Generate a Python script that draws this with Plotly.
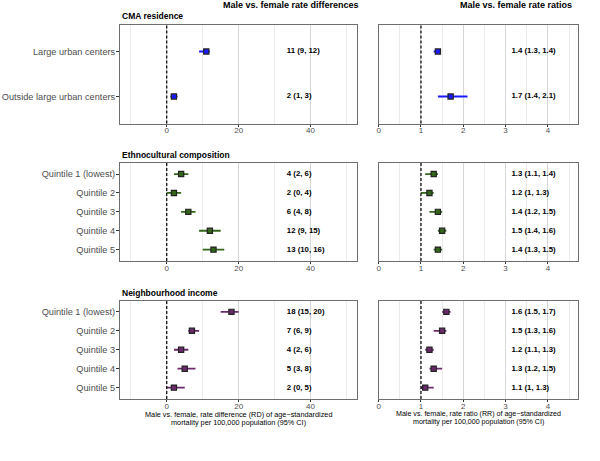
import plotly.graph_objects as go

# ---------------- data ----------------
cma_cats = ["Large urban centers", "Outside large urban centers"]
cma_rd = [11, 2]
cma_rd_lo = [9, 1]
cma_rd_hi = [12, 3]
cma_rr = [1.4, 1.7]
cma_rr_lo = [1.3, 1.4]
cma_rr_hi = [1.4, 2.1]

eth_cats = ["Quintile 1 (lowest)", "Quintile 2", "Quintile 3", "Quintile 4", "Quintile 5"]
eth_rd = [4, 2, 6, 12, 13]
eth_rd_lo = [2, 0, 4, 9, 10]
eth_rd_hi = [6, 4, 8, 15, 16]
eth_rr = [1.3, 1.2, 1.4, 1.5, 1.4]
eth_rr_lo = [1.1, 1.0, 1.2, 1.4, 1.3]
eth_rr_hi = [1.4, 1.3, 1.5, 1.6, 1.5]

inc_cats = ["Quintile 1 (lowest)", "Quintile 2", "Quintile 3", "Quintile 4", "Quintile 5"]
inc_rd = [18, 7, 4, 5, 2]
inc_rd_lo = [15, 6, 2, 3, 0]
inc_rd_hi = [20, 9, 6, 8, 5]
inc_rr = [1.6, 1.5, 1.2, 1.3, 1.1]
inc_rr_lo = [1.5, 1.3, 1.1, 1.2, 1.0]
inc_rr_hi = [1.7, 1.6, 1.3, 1.5, 1.3]

section_titles = ["CMA residence", "Ethnocultural composition", "Neighbourhood income"]
col_titles = ["Male vs. female rate differences", "Male vs. female rate ratios"]
x_titles = [["Male vs. female, rate difference (RD) of age\u2212standardized",
             "mortality per 100,000 population (95% CI)"],
            ["Male vs. female, rate ratio (RR) of age\u2212standardized",
             "mortality per 100,000 population (95% CI)"]]
colors = ["#1a1aff", "#33661a", "#6b2a6b"]

rd_ticks = [0, 20, 40]
rd_minor = [-10, 10, 30, 50]
rr_ticks = [0, 1, 2, 3, 4]
rr_minor = [0.5, 1.5, 2.5, 3.5, 4.5]

# ---------------- layout geometry ----------------
W, H = 600, 461
FONT = "Arial, Liberation Sans, sans-serif"
xdom_l = [120 / W, 357.3 / W]
xdom_r = [378.7 / W, 578.3 / W]
ydoms = [[1 - 123.5 / H, 1 - 24.5 / H],
         [1 - 261 / H, 1 - 162.7 / H],
         [1 - 399 / H, 1 - 300.5 / H]]

fig = go.Figure()

groups = [
    (cma_cats, cma_rd, cma_rd_lo, cma_rd_hi, cma_rr, cma_rr_lo, cma_rr_hi),
    (eth_cats, eth_rd, eth_rd_lo, eth_rd_hi, eth_rr, eth_rr_lo, eth_rr_hi),
    (inc_cats, inc_rd, inc_rd_lo, inc_rd_hi, inc_rr, inc_rr_lo, inc_rr_hi),
]

def fmt(v):
    return f"{v:g}"

shapes = []
annotations = []
for gi, (cats, rd, rdl, rdh, rr, rrl, rrh) in enumerate(groups):
    n = len(cats)
    for ci, (vals, lo, hi) in enumerate([(rd, rdl, rdh), (rr, rrl, rrh)]):
        idx = gi * 2 + ci + 1
        xa = "x" if idx == 1 else f"x{idx}"
        ya = "y" if idx == 1 else f"y{idx}"
        fig.add_trace(go.Scatter(
            x=vals, y=cats, xaxis=xa, yaxis=ya, mode="markers",
            marker=dict(symbol="square", size=5.2, color=colors[gi],
                        line=dict(color="#222222", width=1.2)),
            error_x=dict(type="data", symmetric=False,
                         array=[h - v for h, v in zip(hi, vals)],
                         arrayminus=[v - l for v, l in zip(vals, lo)],
                         color=colors[gi], thickness=1.8, width=0),
            showlegend=False, hoverinfo="skip"))
        labels = [f"{fmt(v)} ({fmt(l)}, {fmt(h)})" for v, l, h in zip(vals, lo, hi)]
        tx = 33.4 if ci == 0 else 3.14
        fig.add_trace(go.Scatter(
            x=[tx] * n, y=cats, xaxis=xa, yaxis=ya, mode="text",
            text=labels, textposition="middle right",
            textfont=dict(family=FONT, size=7.8, color="black", weight="bold"),
            showlegend=False, hoverinfo="skip"))
        xdom = xdom_l if ci == 0 else xdom_r
        xr = [-13, 53] if ci == 0 else [0, 4.72]
        ticks = rd_ticks if ci == 0 else rr_ticks
        minor = rd_minor if ci == 0 else rr_minor
        axkey = "xaxis" if idx == 1 else f"xaxis{idx}"
        aykey = "yaxis" if idx == 1 else f"yaxis{idx}"
        fig.layout[axkey] = dict(
            domain=xdom, anchor=ya, range=xr, tickvals=ticks, automargin=False,
            showgrid=True, gridcolor="#d6d6d6", gridwidth=1,
            minor=dict(tickvals=minor, showgrid=True, gridcolor="#ebebeb", gridwidth=1, ticks=""),
            showline=True, mirror=True, linecolor="#6e6e6e", linewidth=1,
            ticks="outside", ticklen=2, tickcolor="#333333",
            ticklabelstandoff=-3,
            tickfont=dict(family=FONT, size=8, color="#4d4d4d"),
            zeroline=False, fixedrange=True)
        fig.layout[aykey] = dict(
            domain=ydoms[gi], anchor=xa, type="category", automargin=False,
            categoryorder="array", categoryarray=cats,
            range=[n - 0.4, -0.6],
            showticklabels=(ci == 0), showgrid=False,
            ticks="outside" if ci == 0 else "", ticklen=3, tickcolor="#333333",
            ticklabelstandoff=-1,
            tickfont=dict(family=FONT, size=9.2, color="#4d4d4d"),
            showline=True, mirror=True, linecolor="#6e6e6e", linewidth=1,
            zeroline=False, fixedrange=True)
        ref = 0 if ci == 0 else 1
        shapes.append(dict(type="line", xref=xa, yref=f"{ya} domain", x0=ref, x1=ref, y0=0, y1=1,
                           line=dict(color="black", width=1.2, dash="3px,2px"), layer="above"))
        if gi == 2:
            cx = (xdom[0] + xdom[1]) / 2
            for li, (line_txt, ypx) in enumerate(zip(x_titles[ci], [414.3, 422.3])):
                annotations.append(dict(text=line_txt, xref="paper", yref="paper",
                                        x=cx, y=1 - ypx / H, xanchor="center", yanchor="middle",
                                        showarrow=False,
                                        font=dict(family=FONT, size=7.3 if ci == 0 else 7.1, color="black")))
    annotations.append(dict(text=f"<b>{section_titles[gi]}</b>", xref="paper", yref="paper",
                            x=xdom_l[0], y=ydoms[gi][1], xanchor="left", yanchor="bottom", yshift=1,
                            showarrow=False, font=dict(family=FONT, size=8.5, color="black")))

annotations.append(dict(text=f"<b>{col_titles[0]}</b>", xref="paper", yref="paper",
                        x=291 / W, y=1 - 4.5 / H, xanchor="center", yanchor="middle",
                        showarrow=False, font=dict(family=FONT, size=9, color="black")))
annotations.append(dict(text=f"<b>{col_titles[1]}</b>", xref="paper", yref="paper",
                        x=515.5 / W, y=1 - 4.5 / H, xanchor="center", yanchor="middle",
                        showarrow=False, font=dict(family=FONT, size=9, color="black")))

fig.update_layout(width=W, height=H, margin=dict(l=0, r=0, t=0, b=0),
                  plot_bgcolor="white", paper_bgcolor="white",
                  shapes=shapes, annotations=annotations, showlegend=False)

fig.write_html("out.html", config={"displayModeBar": False},
               post_script="document.body.style.margin='0';")
